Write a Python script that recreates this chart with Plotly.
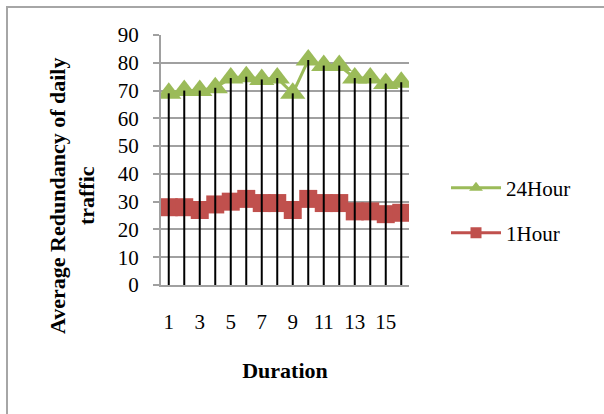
import plotly.graph_objects as go

# Daily traffic redundancy per duration step
duration = list(range(1, 17))
hour24 = [69, 70, 70, 71, 74.5, 75, 74, 74.5, 69, 81, 79, 79, 74.5, 74.5, 72.5, 73]
hour1 = [28, 28, 27, 29, 30, 31, 29.5, 29.5, 27, 31, 29.5, 29.5, 26.5, 26.5, 25.5, 26]
y_ticks = list(range(0, 91, 10))
x_ticks = list(range(1, 17, 2))

GREEN = "#9BBB59"
RED = "#C0504D"
GRID = "#A0A0A0"
SERIF = "Liberation Serif"

W, H = 604, 414
ML, MR, MT, MB = 161, 195, 35, 129
PW, PH = W - ML - MR, H - MT - MB

fig = go.Figure()

# 1Hour series
fig.add_trace(go.Scatter(
    x=duration, y=hour1, mode="lines+markers", name="1Hour",
    line=dict(color=RED, width=3),
    marker=dict(symbol="square", size=18, color=RED),
    showlegend=False,
))
# 24Hour series
fig.add_trace(go.Scatter(
    x=duration, y=hour24, mode="lines+markers", name="24Hour",
    line=dict(color=GREEN, width=3),
    marker=dict(symbol="triangle-up", size=22, color=GREEN),
    showlegend=False,
))

# Drop lines from the highest series down to the category axis
drop_x, drop_y = [], []
for xv, top in zip(duration, [max(a, b) for a, b in zip(hour24, hour1)]):
    drop_x += [xv, xv, None]
    drop_y += [0, top, None]
fig.add_trace(go.Scatter(
    x=drop_x, y=drop_y, mode="lines", line=dict(color="black", width=2),
    hoverinfo="skip", showlegend=False,
))

# Legend entries with small symbols
fig.add_trace(go.Scatter(
    x=[None], y=[None], mode="lines+markers", name="24Hour",
    line=dict(color=GREEN, width=3),
    marker=dict(symbol="triangle-up", size=12, color=GREEN),
    legend="legend",
))
fig.add_trace(go.Scatter(
    x=[None], y=[None], mode="lines+markers", name="1Hour",
    line=dict(color=RED, width=3),
    marker=dict(symbol="square", size=11, color=RED),
    legend="legend2",
))

legend_style = dict(
    xref="container", yref="container", xanchor="left", yanchor="middle",
    font=dict(family=SERIF, size=21, color="black"),
    bgcolor="rgba(0,0,0,0)", itemwidth=50,
)
fig.update_layout(
    legend=dict(x=446 / W, y=1 - 188 / H, **legend_style),
    legend2=dict(x=446 / W, y=1 - 233 / H, **legend_style),
)

# Y axis title, two lines, rotated
fig.add_annotation(
    text="Average Redundancy of daily<br>traffic",
    xref="paper", yref="paper",
    x=(43 - ML) / PW, y=(H - MB - 196) / PH,
    textangle=-90, showarrow=False,
    font=dict(family=SERIF, size=22, color="black", weight="bold"),
)

# Outer chart border
fig.add_shape(
    type="rect", xref="paper", yref="paper",
    x0=(7 - ML) / PW, x1=2.0,
    y0=-1.0, y1=(H - MB - 7) / PH,
    line=dict(color="#A6A6A6", width=2), fillcolor="rgba(0,0,0,0)", layer="below",
)

fig.update_layout(
    width=W, height=H, autosize=False,
    margin=dict(l=ML, r=MR, t=MT, b=MB),
    paper_bgcolor="white", plot_bgcolor="white",
    font=dict(family=SERIF, size=21, color="black"),
    xaxis=dict(
        range=[0.5, 16.5], tickmode="array", tickvals=x_ticks,
        ticktext=[str(v) for v in x_ticks],
        showgrid=False, zeroline=False, showline=True, linecolor=GRID, linewidth=2,
        ticks="", ticklabelstandoff=17,
        title=dict(text="Duration", standoff=29,
                   font=dict(family=SERIF, size=22, weight="bold")),
    ),
    yaxis=dict(
        range=[0, 90], tickmode="array", tickvals=y_ticks,
        showgrid=True, gridcolor=GRID, gridwidth=1.5, zeroline=False,
        showline=True, linecolor=GRID, linewidth=2,
        ticks="outside", ticklen=6, tickcolor=GRID, tickwidth=1.5,
        ticklabelstandoff=10,
    ),
)

fig.write_html("out.html")
